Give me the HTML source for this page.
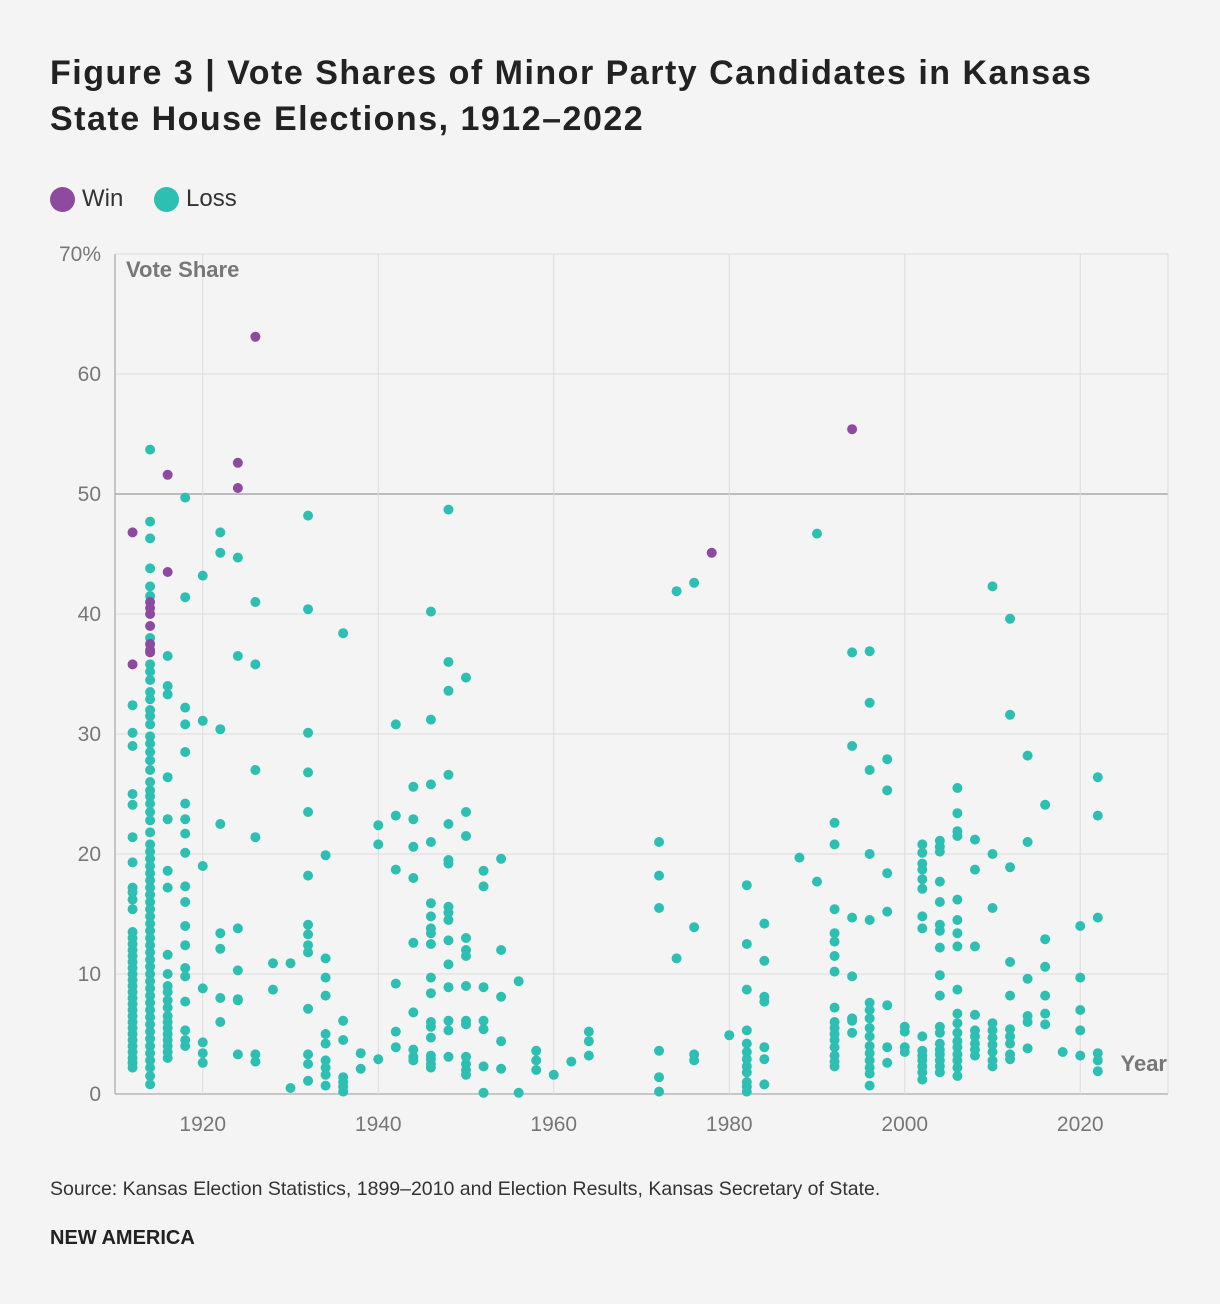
<!DOCTYPE html>
<html><head><meta charset="utf-8"><style>
body{margin:0;background:#f4f4f4;font-family:"Liberation Sans",sans-serif;}
#wrap{position:relative;width:1220px;height:1304px;background:#f4f4f4;}
h1{position:absolute;left:50px;top:50px;margin:0;font-size:34px;line-height:46px;font-weight:bold;color:#222;width:1160px;letter-spacing:1.5px;}
.leg{position:absolute;top:185px;font-size:24px;color:#333;display:flex;align-items:center;}
.leg i{display:inline-block;width:25px;height:25px;border-radius:50%;margin-right:7px;}
.src{position:absolute;left:50px;top:1178px;font-size:19.5px;color:#333;}
.brand{position:absolute;left:50px;top:1227px;font-size:20px;font-weight:bold;color:#222;}
</style></head><body>
<div id="wrap">
<h1>Figure 3 | Vote Shares of Minor Party Candidates in Kansas<br>State House Elections, 1912–2022</h1>
<div class="leg" style="left:50px"><i style="background:#8e4a9f"></i>Win</div>
<div class="leg" style="left:154px"><i style="background:#2ebfb3"></i>Loss</div>
<svg id="chart" width="1220" height="1304" style="position:absolute;left:0;top:0"></svg>
<div class="src">Source: Kansas Election Statistics, 1899–2010 and Election Results, Kansas Secretary of State.</div>
<div class="brand">NEW AMERICA</div>
</div>
<script>
const xTicks=[1920,1940,1960,1980,2000,2020];
const yTicks=[0,10,20,30,40,50,60,70];
const winYears=[1912,1912,1914,1914,1914,1914,1914,1914,1914,1916,1916,1924,1924,1926,1978,1994];
const winShares=[46.8,35.8,41,40.5,40,39,37.5,37,36.8,51.6,43.5,52.6,50.5,63.1,45.1,55.4];
const lossGroups=[
[1912,[32.4,30.1,29,25,24.1,21.4,19.3,17.2,16.8,16.2,15.4,13.5,13,12.5,12,11.5,11,10.5,10,9.5,9,8.5,8,7.5,7,6.5,6,5.5,5,4.5,4,3.5,3,2.6,2.2]],
[1914,[53.7,47.7,46.3,43.8,42.3,41.5,38,37.5,35.8,35.2,34.5,33.5,32.9,32,31.5,30.8,29.8,29.2,28.5,27.8,27,26,25.3,24.8,24.2,23.5,22.8,21.8,20.8,20.2,19.6,19,18.4,17.8,17.2,16.6,16,15.4,14.8,14.2,13.6,13,12.4,11.8,11.2,10.6,10,9.4,8.8,8.2,7.6,7,6.4,5.8,5.2,4.6,4,3.4,2.8,2.2,1.5,0.8]],
[1916,[36.5,34,33.3,26.4,22.9,18.6,17.2,11.6,10,9,8.5,7.8,7.2,6.5,6,5.5,5,4.5,4,3.5,3]],
[1918,[49.7,41.4,32.2,30.8,28.5,24.2,22.9,21.7,20.1,17.3,16,14,12.4,10.5,9.8,7.7,5.3,4.5,4]],
[1920,[43.2,31.1,19,8.8,4.3,3.4,2.6]],
[1922,[46.8,45.1,30.4,22.5,13.4,12.1,8,6]],
[1924,[44.7,36.5,13.8,10.3,7.9,7.8,3.3]],
[1926,[41,35.8,27,21.4,3.3,2.7]],
[1928,[10.9,8.7]],
[1930,[10.9,0.5]],
[1932,[48.2,40.4,30.1,26.8,23.5,18.2,14.1,13.3,12.4,11.8,7.1,3.3,2.5,1.1]],
[1934,[19.9,11.3,9.7,8.2,5,4.2,2.8,2.2,1.6,0.7]],
[1936,[38.4,6.1,4.5,1.4,1,0.6,0.2]],
[1938,[3.4,2.1]],
[1940,[22.4,20.8,2.9]],
[1942,[30.8,23.2,18.7,9.2,5.2,3.9]],
[1944,[25.6,22.9,20.6,18,12.6,6.8,3.7,3.1,2.8]],
[1946,[40.2,31.2,25.8,21,15.9,14.8,13.8,13.4,12.5,9.7,8.4,6,5.6,4.7,3.2,2.9,2.5,2.2]],
[1948,[48.7,36,33.6,26.6,22.5,19.5,19.2,15.6,15.1,14.5,12.8,10.8,8.9,6.1,5.3,3.1]],
[1950,[34.7,23.5,21.5,13,12,11.5,9,6.1,5.8,3.1,2.5,2,1.6]],
[1952,[18.6,17.3,8.9,6.1,5.4,2.3,0.1]],
[1954,[19.6,12,8.1,4.4,2.1]],
[1956,[9.4,0.1]],
[1958,[3.6,2.8,2]],
[1960,[1.6]],
[1962,[2.7]],
[1964,[5.2,4.4,3.2]],
[1972,[21,18.2,15.5,3.6,1.4,0.2]],
[1974,[41.9,11.3]],
[1976,[42.6,13.9,3.3,2.8]],
[1980,[4.9]],
[1982,[17.4,12.5,8.7,5.3,4.2,3.5,2.9,2.3,1.8,1,0.6,0.2]],
[1984,[14.2,11.1,8.1,7.7,3.9,2.9,0.8]],
[1988,[19.7]],
[1990,[46.7,17.7]],
[1992,[22.6,20.8,15.4,13.4,12.7,11.5,10.2,7.2,6,5.5,5,4.5,3.9,3.2,2.7,2.3]],
[1994,[36.8,29,14.7,9.8,6.3,6.1,5.1]],
[1996,[36.9,32.6,27,20,14.5,7.6,7,6.3,5.5,4.8,4,3.4,2.8,2.2,1.7,0.7]],
[1998,[27.9,25.3,18.4,15.2,7.4,3.9,2.6]],
[2000,[5.6,5.2,3.9,3.5]],
[2002,[20.8,20.1,19.2,18.7,17.9,17.1,14.8,13.8,4.8,3.6,3.2,2.8,2.3,1.8,1.2]],
[2004,[21.1,20.6,20.2,17.7,16,14.1,13.6,12.2,9.9,8.2,5.6,5.1,4.2,3.7,3.3,2.8,2.3,1.8]],
[2006,[25.5,23.4,21.9,21.5,16.2,14.5,13.4,12.3,8.7,6.7,5.9,5.1,4.4,3.9,3.3,2.8,2.2,1.5]],
[2008,[21.2,18.7,12.3,6.6,5.3,4.8,4.2,3.7,3.2]],
[2010,[42.3,20,15.5,5.9,5.3,4.7,4.1,3.5,2.8,2.3]],
[2012,[39.6,31.6,18.9,11,8.2,5.4,4.8,4.2,3.3,2.9]],
[2014,[28.2,21,9.6,6.5,6,3.8]],
[2016,[24.1,12.9,10.6,8.2,6.7,5.8]],
[2018,[3.5]],
[2020,[14,9.7,7,5.3,3.2]],
[2022,[26.4,23.2,14.7,3.4,2.8,1.9]]
];
const L=115,R=1168,T=254,B=1094;
const xS=y=>L+(y-1910)/120*(R-L);
const yS=v=>B-v/70*(B-T);
const svg=document.getElementById('chart');
const NS='http://www.w3.org/2000/svg';
function mk(tag,attrs){const e=document.createElementNS(NS,tag);for(const k in attrs)e.setAttribute(k,attrs[k]);svg.appendChild(e);return e;}
yTicks.forEach(t=>{
  const l=mk('line',{x1:L,x2:R,y1:yS(t),y2:yS(t),stroke:t===50?'#aaa':(t===0?'#999':'#dcdcdc'),'stroke-width':t===50?1.5:1});
  
  
  const tx=mk('text',{x:101,y:yS(t)+7,'text-anchor':'end','font-size':21,fill:'#777','font-family':'Liberation Sans, sans-serif'});
  tx.textContent=t===70?'70%':t;
  
  
});
xTicks.forEach(t=>{
  const l=mk('line',{x1:xS(t),x2:xS(t),y1:T,y2:B,stroke:'#dcdcdc','stroke-width':1});
  
  
  const tx=mk('text',{x:xS(t),y:1131,'text-anchor':'middle','font-size':21,fill:'#777','font-family':'Liberation Sans, sans-serif'});
  tx.textContent=t;
  
  
});
const ax=mk('line',{x1:L,x2:L,y1:T,y2:B,stroke:'#999','stroke-width':1});


const ax2=mk('line',{x1:R,x2:R,y1:T,y2:B,stroke:'#dcdcdc','stroke-width':1});


const yt=mk('text',{x:126,y:277,'font-size':22,'font-weight':'bold',fill:'#777','font-family':'Liberation Sans, sans-serif'});
yt.textContent='Vote Share';


const xt=mk('text',{x:1167,y:1071,'text-anchor':'end','font-size':22,'font-weight':'bold',fill:'#777','font-family':'Liberation Sans, sans-serif'});
xt.textContent='Year';


lossGroups.forEach(g=>g[1].forEach(v=>{
  const c=mk('circle',{cx:xS(g[0]),cy:yS(v),r:5,fill:'#2ebfb3'});
  
  
}));
winYears.forEach((y,i)=>{
  const c=mk('circle',{cx:xS(y),cy:yS(winShares[i]),r:5,fill:'#8e4a9f'});
  
  
});
</script>
</body></html>
